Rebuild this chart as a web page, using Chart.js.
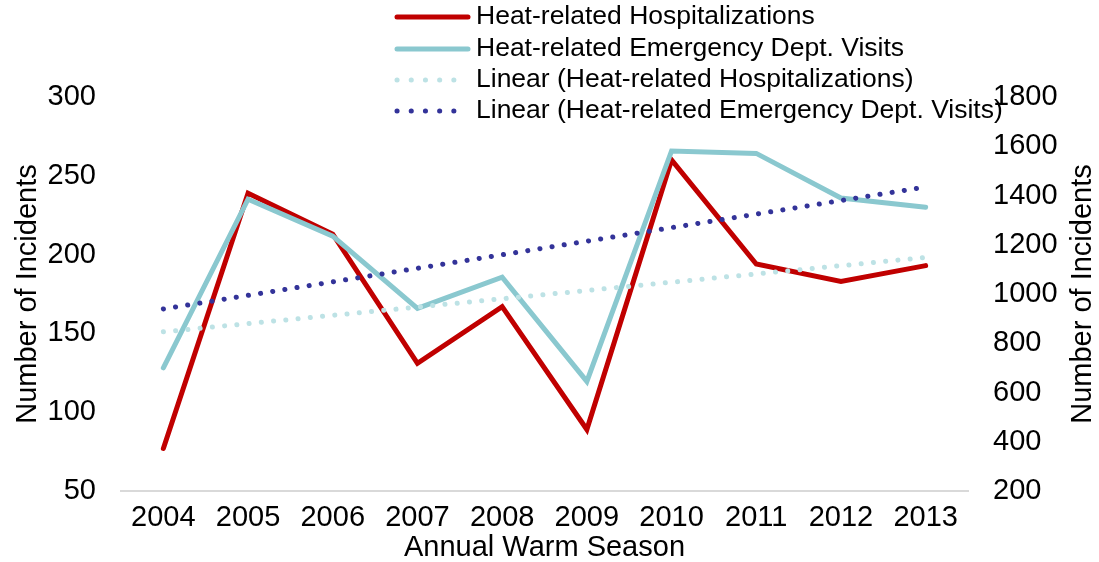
<!DOCTYPE html>
<html>
<head>
<meta charset="utf-8">
<title>Heat-related Incidents</title>
<script src="https://cdn.jsdelivr.net/npm/chart.js@4"></script>
<style>
  html, body { margin: 0; padding: 0; background: #fff; }
  canvas { display: block; }
</style>
</head>
<body>
<canvas id="heatChart" width="1099" height="562"></canvas>
<script>
// data
var years = ['2004', '2005', '2006', '2007', '2008', '2009', '2010', '2011', '2012', '2013'];
var hospitalizations = [77, 239, 213, 131, 167, 89, 260, 194, 183, 193];
var edVisits = [700, 1385, 1235, 942, 1068, 645, 1581, 1571, 1390, 1352];
var leftRange = [50, 300, 50];     // min, max, step
var rightRange = [200, 1800, 200];

var FONT = '"Liberation Sans", Arial, sans-serif';

// least squares trend, same as the Excel "Linear" trendline
function linearTrend(values) {
    var n = values.length, sx = 0, sy = 0, sxy = 0, sxx = 0;
    for (var i = 0; i < n; i++) {
        sx += i; sy += values[i]; sxy += i * values[i]; sxx += i * i;
    }
    var slope = (n * sxy - sx * sy) / (n * sxx - sx * sx);
    var icpt = (sy - slope * sx) / n;
    return values.map(function (v, i) { return icpt + slope * i; });
}

// custom legend (vertical list) + right axis title reading bottom-to-top
var extrasPlugin = {
    id: 'extras',
    afterDraw: function (chart) {
        var ctx = chart.ctx;
        var rows = [17, 49, 80, 111];
        ctx.save();
        chart.data.datasets.forEach(function (ds, i) {
            var y = rows[i];
            ctx.beginPath();
            ctx.setLineDash(ds.borderDash ? [0.1, 14.1] : []);
            ctx.lineCap = 'round';
            ctx.lineWidth = ds.borderWidth;
            ctx.strokeStyle = ds.borderColor;
            ctx.moveTo(397, y);
            ctx.lineTo(468, y);
            ctx.stroke();
            ctx.setLineDash([]);
            ctx.fillStyle = '#000';
            ctx.font = '26.5px ' + FONT;
            ctx.textAlign = 'left';
            ctx.textBaseline = 'middle';
            ctx.fillText(ds.label, 476, y);
        });
        ctx.translate(1083, (chart.chartArea.top + chart.chartArea.bottom) / 2);
        ctx.rotate(-Math.PI / 2);
        ctx.font = '29px ' + FONT;
        ctx.textAlign = 'center';
        ctx.textBaseline = 'middle';
        ctx.fillText('Number of Incidents', 0, 0);
        ctx.restore();
    }
};

document.addEventListener('DOMContentLoaded', function () {
    var ctx = document.getElementById('heatChart').getContext('2d');
    var chart = new Chart(ctx, {
        type: 'line',
        data: {
            labels: years,
            datasets: [{
                label: 'Heat-related Hospitalizations',
                data: hospitalizations,
                yAxisID: 'y',
                borderColor: '#C00000',
                borderWidth: 5,
                borderCapStyle: 'round',
                order: 4
            }, {
                label: 'Heat-related Emergency Dept. Visits',
                data: edVisits,
                yAxisID: 'y1',
                borderColor: '#8AC8CF',
                borderWidth: 5,
                borderCapStyle: 'round',
                order: 3
            }, {
                label: 'Linear (Heat-related Hospitalizations)',
                data: linearTrend(hospitalizations),
                yAxisID: 'y',
                borderColor: '#BDE2E5',
                borderWidth: 5,
                borderDash: [0.1, 12.2],
                borderCapStyle: 'round',
                order: 2
            }, {
                label: 'Linear (Heat-related Emergency Dept. Visits)',
                data: linearTrend(edVisits),
                yAxisID: 'y1',
                borderColor: '#333399',
                borderWidth: 5,
                borderDash: [0.1, 12.2],
                borderCapStyle: 'round',
                order: 1
            }]
        },
        options: {
            responsive: false,
            animation: false,
            elements: {
                point: { radius: 0, hoverRadius: 0 },
                line: { tension: 0, fill: false }
            },
            layout: {
                padding: { top: 97, left: 0, right: 0, bottom: 0 }
            },
            plugins: {
                legend: { display: false },
                tooltip: { enabled: false }
            },
            scales: {
                x: {
                    offset: true,
                    grid: { display: false, drawTicks: false },
                    border: { display: true, color: '#D9D9D9', width: 2 },
                    ticks: {
                        color: '#000',
                        font: { family: FONT, size: 29 },
                        padding: 10,
                        maxRotation: 0,
                        autoSkip: false
                    },
                    title: {
                        display: true,
                        text: 'Annual Warm Season',
                        color: '#000',
                        font: { family: FONT, size: 29, lineHeight: 1 },
                        padding: 0
                    },
                    afterFit: function (s) { s.height = 71; }
                },
                y: {
                    position: 'left',
                    min: leftRange[0],
                    max: leftRange[1],
                    grid: { display: false, drawTicks: false },
                    border: { display: false },
                    ticks: {
                        stepSize: leftRange[2],
                        color: '#000',
                        font: { family: FONT, size: 29 },
                        padding: 25
                    },
                    title: {
                        display: true,
                        text: 'Number of Incidents',
                        color: '#000',
                        font: { family: FONT, size: 29, lineHeight: 1 },
                        padding: { top: 13, bottom: 0 }
                    },
                    afterFit: function (s) { s.width = 121; }
                },
                y1: {
                    position: 'right',
                    min: rightRange[0],
                    max: rightRange[1],
                    grid: { display: false, drawTicks: false },
                    border: { display: false },
                    ticks: {
                        stepSize: rightRange[2],
                        color: '#000',
                        font: { family: FONT, size: 29 },
                        padding: 25,
                        callback: function (v) { return String(v); }
                    },
                    afterFit: function (s) { s.width = 131; }
                }
            }
        },
        plugins: [extrasPlugin]
    });
});
</script>
</body>
</html>
